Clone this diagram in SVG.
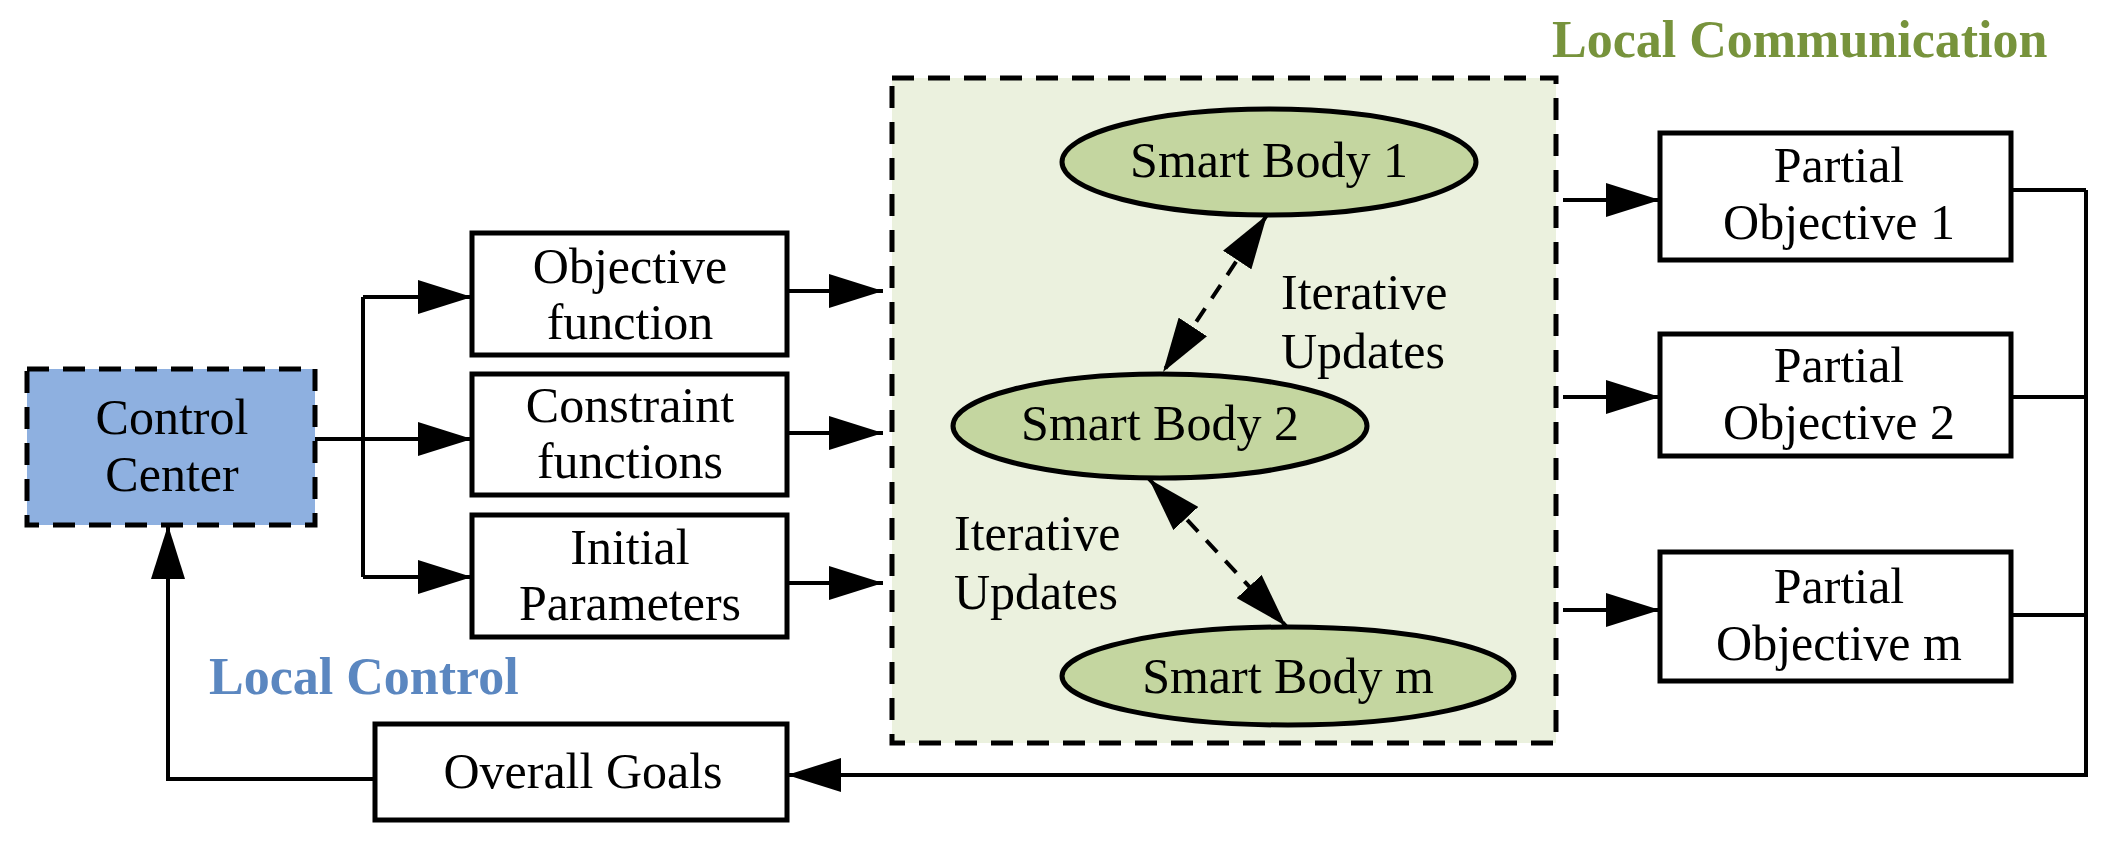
<svg xmlns="http://www.w3.org/2000/svg" width="2114" height="841" viewBox="0 0 2114 841">
<style>
text{font-family:"Liberation Serif","Times New Roman",serif;font-size:50px;fill:#000;text-anchor:middle}
.b{fill:#fff;stroke:#000;stroke-width:5}
.ln{fill:none;stroke:#000;stroke-width:4}
.dl{fill:none;stroke:#000;stroke-width:4;stroke-dasharray:16 12}
.el{fill:#c4d6a0;stroke:#000;stroke-width:5}
.lbl{font-weight:bold;text-anchor:start;font-size:52px}
</style>
<defs>
<marker id="a" markerUnits="userSpaceOnUse" markerWidth="54" markerHeight="34" refX="54" refY="17" orient="auto-start-reverse"><path d="M0,0L54,17L0,34z" fill="#000"/></marker>
</defs>
<g id="container"><rect x="892" y="78" width="664" height="665" fill="#ebf1de" stroke="#000" stroke-width="5" stroke-dasharray="22 14"/></g>
<text class="lbl" x="1552" y="57" style="fill:#77933c">Local Communication</text>
<text class="lbl" x="209" y="694" style="fill:#5b87c0">Local Control</text>
<g id="connectors">
<path class="ln" d="M315,439H472" marker-end="url(#a)"/>
<path class="ln" d="M363,297V577"/>
<path class="ln" d="M363,297H472" marker-end="url(#a)"/>
<path class="ln" d="M363,577H472" marker-end="url(#a)"/>
<path class="ln" d="M789,291H883" marker-end="url(#a)"/>
<path class="ln" d="M789,433H883" marker-end="url(#a)"/>
<path class="ln" d="M789,583H883" marker-end="url(#a)"/>
<path class="ln" d="M1563,200H1660" marker-end="url(#a)"/>
<path class="ln" d="M1563,397H1660" marker-end="url(#a)"/>
<path class="ln" d="M1563,610H1660" marker-end="url(#a)"/>
<path class="ln" d="M2011,190H2086M2011,397H2086M2011,615H2086M2086,190V775H787" marker-end="url(#a)"/>
<path class="ln" d="M375,779H168V525" marker-end="url(#a)"/>
<path class="dl" d="M1267,215L1163,372" marker-start="url(#a)" marker-end="url(#a)"/>
<path class="dl" d="M1149,479L1286,626" marker-start="url(#a)" marker-end="url(#a)"/>
</g>
<g id="cc"><rect x="27" y="369" width="288" height="156" fill="#8eb0e0" stroke="#000" stroke-width="5" stroke-dasharray="22 14"/><text x="172" y="434">Control</text><text x="172" y="491">Center</text></g>
<g id="obj"><rect class="b" x="472" y="233" width="315" height="122"/><text x="630" y="283">Objective</text><text x="630" y="339">function</text></g>
<g id="con"><rect class="b" x="472" y="374" width="315" height="121"/><text x="630" y="422">Constraint</text><text x="630" y="478">functions</text></g>
<g id="ini"><rect class="b" x="472" y="515" width="315" height="122"/><text x="630" y="564">Initial</text><text x="630" y="620">Parameters</text></g>
<g id="goals"><rect class="b" x="375" y="724" width="412" height="96"/><text x="583" y="788">Overall Goals</text></g>
<g id="sb1"><ellipse class="el" cx="1269" cy="162" rx="207" ry="53"/><text x="1269" y="177">Smart Body 1</text></g>
<g id="sb2"><ellipse class="el" cx="1160" cy="426" rx="207" ry="52"/><text x="1160" y="440">Smart Body 2</text></g>
<g id="sbm"><ellipse class="el" cx="1288" cy="676" rx="226" ry="49"/><text x="1288" y="693">Smart Body m</text></g>
<text x="1281" y="309" style="text-anchor:start">Iterative</text>
<text x="1281" y="368" style="text-anchor:start">Updates</text>
<text x="954" y="550" style="text-anchor:start">Iterative</text>
<text x="954" y="609" style="text-anchor:start">Updates</text>
<g id="p1"><rect class="b" x="1660" y="133" width="351" height="127"/><text x="1839" y="182">Partial</text><text x="1839" y="239">Objective 1</text></g>
<g id="p2"><rect class="b" x="1660" y="334" width="351" height="122"/><text x="1839" y="382">Partial</text><text x="1839" y="439">Objective 2</text></g>
<g id="pm"><rect class="b" x="1660" y="552" width="351" height="129"/><text x="1839" y="603">Partial</text><text x="1839" y="660">Objective m</text></g>
</svg>
